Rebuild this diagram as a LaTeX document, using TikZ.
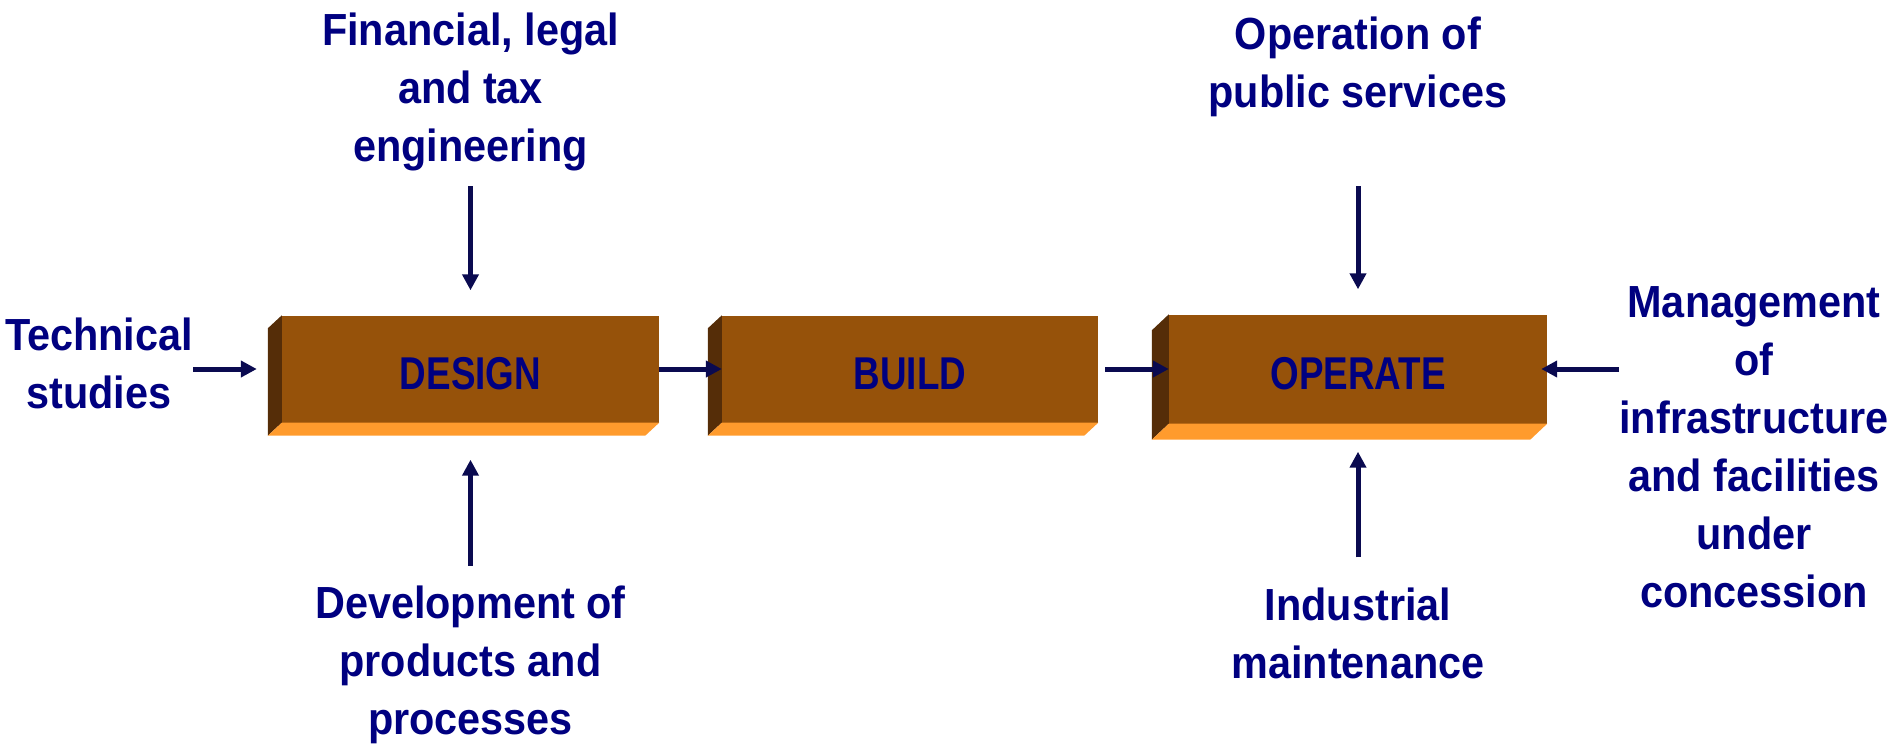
\documentclass[tikz,border=0pt]{standalone}
\usepackage{fontspec}
\setmainfont{Liberation Sans}
\newfontfamily\lblfont[FakeStretch=0.92]{Liberation Sans Bold}
\newfontfamily\stagefont[FakeStretch=0.8]{Liberation Sans Bold}
\usetikzlibrary{arrows.meta}
\definecolor{navytext}{RGB}{0,0,128}
\definecolor{arrowcol}{RGB}{10,10,80}
\definecolor{boxfront}{RGB}{150,82,10}
\definecolor{boxside}{RGB}{85,45,8}
\definecolor{boxbase}{RGB}{255,155,45}
\newcommand{\bevel}[3]{%
\fill[boxside] (#1.north west) -- ++(-#2,#3) -- ([shift={(-#2,#3)}]#1.south west) -- (#1.south west) -- cycle;
\fill[boxbase] (#1.south west) -- ++(-#2,#3) -- ([shift={(-#2,#3)}]#1.south east) -- (#1.south east) -- cycle;}
\begin{document}
\begin{tikzpicture}[x=1pt,y=-1pt,
lbl/.style={align=center, inner sep=0, text=navytext, font=\lblfont\fontsize{45}{58}\selectfont},
stage/.style={fill=boxfront, inner sep=0, text height=41pt, text depth=0pt, text=navytext, font=\stagefont\fontsize{46}{50}\selectfont},
flow/.style={draw=arrowcol, line width=5pt, -{Triangle[length=16pt,width=16pt]}}]
\useasboundingbox (0,0) rectangle (1903,748);
\node[stage, minimum width=377, minimum height=107] (design) at (470.5,369) {DESIGN};
\node[stage, minimum width=376, minimum height=107] (build) at (910,369) {BUILD};
\node[stage, minimum width=378, minimum height=109] (operate) at (1358,369) {OPERATE};
\bevel{design}{14}{13}
\bevel{build}{14}{13}
\bevel{operate}{17}{16}
\node[lbl] (finlegal) at (470.5,92) {Financial, legal\\and tax\\engineering};
\node[lbl] (devprod) at (470.5,665) {Development of\\products and\\processes};
\node[lbl] (tech) at (99,363) {Technical\\studies};
\node[lbl] (operation) at (1358,67) {Operation of\\public services};
\node[lbl] (indmaint) at (1358,633) {Industrial\\maintenance};
\node[lbl] (mgmt) at (1754,447) {Management\\of\\infrastructure\\and facilities\\under\\concession};
\draw[flow, shorten >=25pt] (tech.east |- design.west) -- (design.west);
\draw[flow] (design.east) -- (build.west);
\draw[flow, shorten <=7pt] (build.east) -- (operate.west);
\draw[flow, shorten >=-6pt] (mgmt.west |- operate.east) -- (operate.east);
\draw[flow, shorten <=15pt, shorten >=25pt] (finlegal) -- (design);
\draw[flow, shorten <=20pt, shorten >=37pt] (devprod) -- (design);
\draw[flow, shorten <=69pt, shorten >=25pt] (operation) -- (operate);
\draw[flow, shorten <=30pt, shorten >=28pt] (indmaint) -- (operate);
\end{tikzpicture}
\end{document}
